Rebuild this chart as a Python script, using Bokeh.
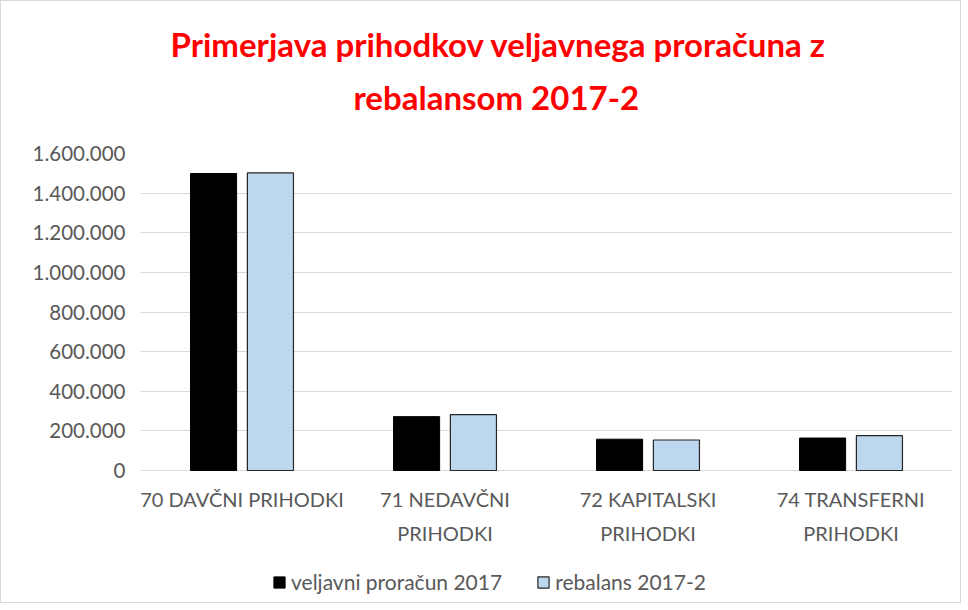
from bokeh.plotting import figure
from bokeh.models import (ColumnDataSource, FactorRange, Range1d, Legend, LegendItem,
                          CustomJSTickFormatter, FixedTicker, Title)
from bokeh.core.properties import value
from bokeh.transform import dodge
from bokeh.embed import file_html
from bokeh.resources import INLINE

categories = ["70 DAVČNI PRIHODKI", "71 NEDAVČNI\nPRIHODKI", "72 KAPITALSKI\nPRIHODKI", "74 TRANSFERNI\nPRIHODKI"]
veljavni = [1499000, 272000, 158000, 164000]
rebalans = [1502000, 282000, 154000, 176000]
y_ticks = [0, 200000, 400000, 600000, 800000, 1000000, 1200000, 1400000, 1600000]
series_names = ["veljavni proračun 2017", "rebalans 2017-2"]
title_line1 = "Primerjava prihodkov veljavnega proračuna z"
title_line2 = "rebalansom 2017-2"

src = ColumnDataSource(dict(cat=categories, a=veljavni, b=rebalans,
                            base=[0] * len(categories)))

FONT = "Lato"
GRAY = "#595959"

# frame extends below the zero line to leave room for category labels and legend
p = figure(frame_width=812, frame_height=447, output_backend="svg", toolbar_location=None,
           x_range=FactorRange(*categories, range_padding=0),
           y_range=Range1d(-656000, 1600000),
           min_border_left=139, min_border_right=8, min_border_top=152, min_border_bottom=2)
p.title.text = title_line1
p.title.align = "left"
p.title.offset = 30
p.title.text_color = "#ff0000"
p.title.text_font = FONT
p.title.text_font_size = "33px"
p.title.text_font_style = "bold"
p.title.standoff = -52
p.add_layout(Title(text=title_line2, align="left", offset=213, text_color="#ff0000",
                   text_font=FONT, text_font_size="33px", text_font_style="bold",
                   standoff=74), "above")

ra = p.vbar(x=dodge("cat", -0.14, range=p.x_range), top="a", width=0.227, source=src,
            fill_color="#000000", line_color="#000000", line_width=1)
rb = p.vbar(x=dodge("cat", 0.14, range=p.x_range), top="b", width=0.227, source=src,
            fill_color="#bdd7ee", line_color="#262626", line_width=1.2)

# category labels under the zero line
p.text(x="cat", y="base", text="cat", source=src, text_align="center",
       text_baseline="top", y_offset=16, text_font=value(FONT), text_font_size="20px",
       text_color=GRAY, text_line_height=1.45)

p.yaxis.ticker = FixedTicker(ticks=y_ticks)
p.yaxis.formatter = CustomJSTickFormatter(code="""
return Math.round(tick).toString().replace(/\\B(?=(\\d{3})+(?!\\d))/g, '.');
""")
p.yaxis.axis_line_color = None
p.yaxis.major_tick_line_color = None
p.yaxis.minor_tick_line_color = None
p.yaxis.major_tick_out = 0
p.yaxis.major_label_text_font = FONT
p.yaxis.major_label_text_font_size = "20.5px"
p.yaxis.major_label_text_color = GRAY
p.yaxis.major_label_standoff = 15

p.xaxis.visible = False

p.xgrid.grid_line_color = None
p.ygrid.ticker = FixedTicker(ticks=y_ticks)
p.ygrid.grid_line_color = "#d9d9d9"
p.ygrid.grid_line_width = 1
p.outline_line_color = None

legend = Legend(items=[LegendItem(label=series_names[0], renderers=[ra]),
                       LegendItem(label=series_names[1], renderers=[rb])],
                orientation="horizontal", location=(132, 6),
                label_text_font=FONT, label_text_font_size="21px", label_text_color=GRAY,
                glyph_width=14, glyph_height=14, spacing=34, label_standoff=5,
                border_line_color=None, background_fill_alpha=0, margin=0, padding=4)
p.add_layout(legend)

p.styles = {"border": "1px solid #d9d9d9"}

open("out.html", "w").write(file_html(p, INLINE))
